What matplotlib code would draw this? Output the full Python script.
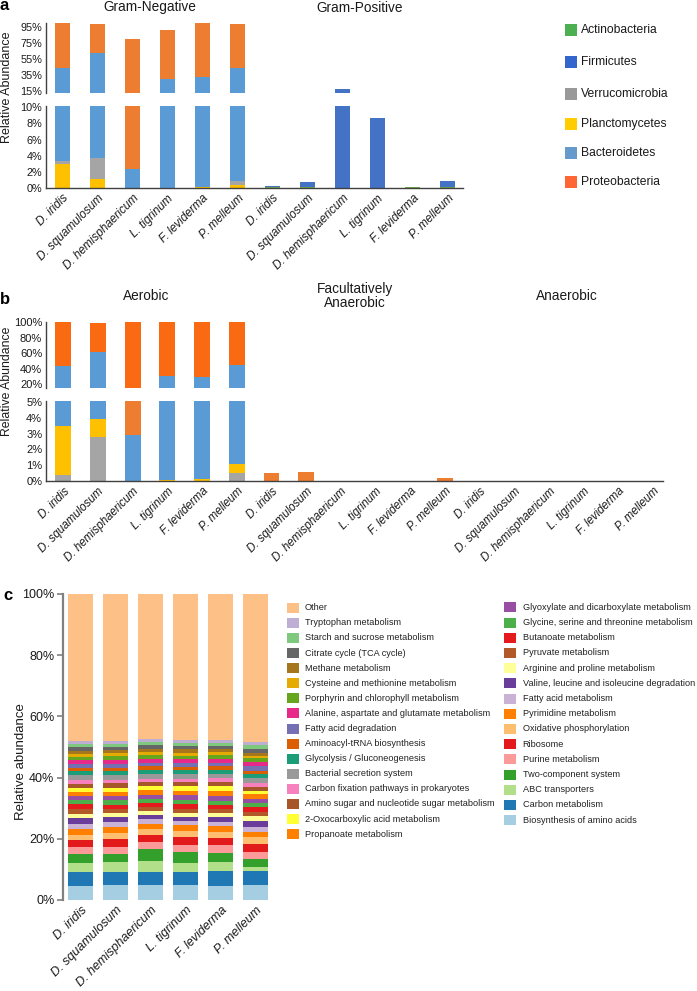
import matplotlib
matplotlib.use('Agg')
import matplotlib.pyplot as plt
from matplotlib.patches import Rectangle
from matplotlib.transforms import blended_transform_factory
import numpy as np

plt.rcParams['font.family'] = ['Liberation Sans', 'DejaVu Sans']

# ---------------- data ----------------
samples = ['D. iridis', 'D. squamulosum', 'D. hemisphaericum',
           'L. tigrinum', 'F. leviderma', 'P. melleum']

# panel a
gram_groups = ['Gram-Negative', 'Gram-Positive']
gneg_planctomycetes = [3.0, 1.1, 0.0, 0.05, 0.1, 0.45]
gneg_verrucomicrobia = [0.4, 2.7, 0.0, 0.0, 0.0, 0.5]
gneg_bacteroidetes = [40.6, 58.2, 2.35, 29.1, 31.6, 43.05]
gneg_proteobacteria = [56.0, 37.5, 78.25, 62.5, 68.3, 55.5]
gpos_actinobacteria = [0.1, 0.1, 0.0, 0.05, 0.1, 0.1]
gpos_firmicutes = [0.15, 0.65, 16.7, 8.65, 0.0, 0.8]

phyla = ['Actinobacteria', 'Firmicutes', 'Verrucomicrobia',
         'Planctomycetes', 'Bacteroidetes', 'Proteobacteria']

# panel b
oxy_groups = ['Aerobic', 'Facultatively\nAnaerobic', 'Anaerobic']
aer_verrucomicrobia = [0.4, 2.8, 0.0, 0.0, 0.0, 0.55]
aer_planctomycetes = [3.1, 1.1, 0.0, 0.1, 0.15, 0.55]
aer_bacteroidetes = [40.5, 58.1, 2.9, 30.6, 29.65, 43.4]
aer_proteobacteria = [56.0, 37.0, 97.1, 69.3, 70.2, 55.5]
fac_proteobacteria = [0.5, 0.6, 0.0, 0.05, 0.05, 0.23]
ana_proteobacteria = [0.0, 0.0, 0.0, 0.0, 0.0, 0.0]

# panel c (bottom -> top)
pathways = ['Biosynthesis of amino acids', 'Carbon metabolism', 'ABC transporters',
            'Two-component system', 'Purine metabolism', 'Ribosome',
            'Oxidative phosphorylation', 'Pyrimidine metabolism', 'Fatty acid metabolism',
            'Valine, leucine and isoleucine degradation', 'Arginine and proline metabolism',
            'Pyruvate metabolism', 'Butanoate metabolism',
            'Glycine, serine and threonine metabolism',
            'Glyoxylate and dicarboxylate metabolism', 'Propanoate metabolism',
            '2-Oxocarboxylic acid metabolism', 'Amino sugar and nucleotide sugar metabolism',
            'Carbon fixation pathways in prokaryotes', 'Bacterial secretion system',
            'Glycolysis / Gluconeogenesis', 'Aminoacyl-tRNA biosynthesis',
            'Fatty acid degradation', 'Alanine, aspartate and glutamate metabolism',
            'Porphyrin and chlorophyll metabolism', 'Cysteine and methionine metabolism',
            'Methane metabolism', 'Citrate cycle (TCA cycle)',
            'Starch and sucrose metabolism', 'Tryptophan metabolism', 'Other']
pathway_colors = ['#A6CEE3', '#1F78B4', '#B2DF8A', '#33A02C', '#FB9A99', '#E31A1C',
                  '#FDBF6F', '#FF7F00', '#CAB2D6', '#6A3D9A', '#FFFF99', '#B15928',
                  '#E41A1C', '#4DAF4A', '#984EA3', '#FF7F00', '#FFFF33', '#A65628',
                  '#F781BF', '#999999', '#1B9E77', '#D95F02', '#7570B3', '#E7298A',
                  '#66A61E', '#E6AB02', '#A6761D', '#666666', '#7FC97F', '#BEAED4',
                  '#FDC086']
c_d_iridis = [4.7, 4.35, 3.2, 2.7, 2.3, 2.2, 1.85, 1.85, 1.75, 1.85, 1.5, 1.5, 1.6, 1.3,
              1.4, 1.3, 1.4, 1.3, 1.3, 1.4, 1.3, 1.2, 1.2, 1.3, 1.1, 1.0, 1.0, 1.1, 1.0,
              1.0, 48.05]
c_d_squamulosum = [4.9, 4.35, 3.2, 2.6, 2.4, 2.5, 1.85, 2.2, 1.4, 1.6, 1.5, 1.3, 1.4, 1.4,
                   1.3, 1.3, 1.5, 1.4, 1.2, 1.4, 1.3, 1.2, 1.2, 1.4, 1.1, 1.0, 1.0, 1.1,
                   1.0, 1.0, 48.0]
c_d_hemisphaericum = [4.9, 4.35, 3.6, 3.7, 2.5, 2.2, 1.9, 1.85, 1.4, 1.3, 1.4, 1.3, 1.4,
                      1.2, 1.3, 1.5, 1.3, 1.3, 1.2, 1.5, 1.3, 1.4, 1.1, 1.3, 1.1, 1.1,
                      1.0, 1.1, 1.0, 1.0, 47.5]
c_l_tigrinum = [4.9, 4.35, 3.0, 3.3, 2.5, 2.6, 1.95, 1.85, 1.4, 1.4, 1.3, 1.3, 1.6, 1.3,
                1.45, 1.3, 1.6, 1.3, 1.2, 1.5, 1.3, 1.2, 1.2, 1.3, 1.1, 1.0, 1.0, 1.1,
                1.0, 1.0, 47.7]
c_f_leviderma = [4.7, 4.8, 3.0, 3.0, 2.5, 2.4, 1.85, 1.85, 1.4, 1.7, 1.2, 1.3, 1.4, 1.3,
                 1.7, 1.5, 1.6, 1.5, 1.2, 1.3, 1.3, 1.2, 1.2, 1.3, 1.1, 1.0, 1.0, 1.1,
                 1.0, 1.0, 47.6]
c_p_melleum = [4.9, 4.7, 1.3, 2.5, 2.4, 2.5, 2.2, 1.85, 1.6, 2.0, 1.5, 1.4, 1.5, 1.3,
               1.4, 1.5, 1.1, 1.4, 1.25, 1.5, 1.4, 1.1, 1.6, 1.1, 1.3, 0.9, 0.9, 1.3,
               1.1, 1.0, 48.5]

# ---------------- styling ----------------
W, H = 697, 991
fig = plt.figure(figsize=(W / 100, H / 100), dpi=100)

def fx(px):
    return px / W

def fy(py):
    return 1 - py / H

def add_ax(left, top, right, bottom):
    return fig.add_axes([fx(left), fy(bottom), fx(right) - fx(left), fy(top) - fy(bottom)])

C_ACT = '#70AD47'
C_FIR = '#4472C4'
C_VER = '#A5A5A5'
C_PLA = '#FFC000'
C_BAC = '#5B9BD5'
C_PRO = '#ED7D31'
C_PRO_B = '#FA6A12'
SPINE = '#404040'
TXT = '#1a1a1a'


def stack(ax, xs, layers, colors, width):
    bottom = np.zeros(len(xs))
    for vals, col in zip(layers, colors):
        v = np.asarray(vals, dtype=float)
        ax.bar(xs, v, width=width, bottom=bottom, color=col, edgecolor='none', linewidth=0)
        bottom += v


def style_broken(ax_top, ax_bot, yl_top, yl_bot, ticks_top, ticks_bot, xlim, fs):
    for ax in (ax_top, ax_bot):
        ax.set_xlim(*xlim)
        ax.spines['top'].set_visible(False)
        ax.spines['right'].set_visible(False)
        ax.spines['left'].set_color(SPINE)
        ax.spines['left'].set_linewidth(1.0)
        ax.tick_params(axis='y', length=0, pad=2.5, labelsize=fs, colors=TXT)
        ax.patch.set_alpha(0)
    ax_top.spines['bottom'].set_visible(False)
    ax_top.set_xticks([])
    ax_top.set_ylim(*yl_top)
    ax_top.set_yticks(ticks_top)
    ax_top.set_yticklabels([f'{t}%' for t in ticks_top])
    ax_bot.spines['bottom'].set_color(SPINE)
    ax_bot.spines['bottom'].set_linewidth(1.0)
    ax_bot.set_ylim(*yl_bot)
    ax_bot.set_yticks(ticks_bot)
    ax_bot.set_yticklabels([f'{t}%' for t in ticks_bot])


# ---------------- panel a ----------------
xa = np.arange(12)
a_top = add_ax(45.7, 22.7, 462.7, 93.3)
a_bot = add_ax(45.7, 106.0, 462.7, 188.3)
for ax in (a_top, a_bot):
    stack(ax, xa[:6], [gneg_planctomycetes, gneg_verrucomicrobia, gneg_bacteroidetes,
                       gneg_proteobacteria], [C_PLA, C_VER, C_BAC, C_PRO], 0.43)
    stack(ax, xa[6:], [gpos_actinobacteria, gpos_firmicutes], [C_ACT, C_FIR], 0.43)
style_broken(a_top, a_bot, (11.7, 100.6), (0, 10.16), [15, 35, 55, 75, 95],
             [0, 2, 4, 6, 8, 10], (-0.48, 11.43), 7.8)
a_bot.set_xticks(xa)
a_bot.set_xticklabels(samples * 2, rotation=45, ha='right', va='top',
                      rotation_mode='anchor', fontsize=8.5, style='italic', color=TXT)
a_bot.tick_params(axis='x', length=0, pad=3)

tr = blended_transform_factory(a_top.transData, fig.transFigure)
for gx, g in zip([2.5, 8.5], gram_groups):
    a_top.text(gx, fy(7.5), g, transform=tr, ha='center', va='center', fontsize=9.8,
               color=TXT)
fig.text(fx(0), fy(6), 'a', fontsize=12, fontweight='bold', ha='left', va='center')
fig.text(fx(7.5), fy(87), 'Relative Abundance', rotation=90, ha='center', va='center',
         fontsize=9, color=TXT)

leg_a_colors = ['#4CAF50', '#3366CC', '#999999', '#FFCC00', '#6699CC', '#FF6633']
leg_a_y = [30, 62.3, 93.7, 124, 152.7, 182]
for name, col, yy in zip(phyla, leg_a_colors, leg_a_y):
    fig.patches.append(Rectangle((fx(565), fy(yy + 6)), fx(12), 12 / H,
                                 transform=fig.transFigure, facecolor=col,
                                 edgecolor='none'))
    fig.text(fx(581), fy(yy), name, ha='left', va='center', fontsize=8.7, color=TXT)

# ---------------- panel b ----------------
xb = np.arange(18)
b_top = add_ax(45.7, 322.3, 663.3, 387.7)
b_bot = add_ax(45.7, 400.7, 663.3, 481.3)
for ax, pcol in ((b_top, C_PRO_B), (b_bot, C_PRO)):
    stack(ax, xb[:6], [aer_verrucomicrobia, aer_planctomycetes, aer_bacteroidetes,
                       aer_proteobacteria], [C_VER, C_PLA, C_BAC, pcol], 0.46)
    stack(ax, xb[6:12], [fac_proteobacteria], [C_PRO], 0.46)
    stack(ax, xb[12:], [ana_proteobacteria], [C_PRO], 0.46)
style_broken(b_top, b_bot, (15.6, 100), (0, 5.06), [20, 40, 60, 80, 100],
             [0, 1, 2, 3, 4, 5], (-0.507, 17.29), 8.0)
b_bot.set_xticks(xb)
b_bot.set_xticklabels(samples * 3, rotation=45, ha='right', va='top',
                      rotation_mode='anchor', fontsize=8.3, style='italic', color=TXT)
b_bot.tick_params(axis='x', length=0, pad=3)

trb = blended_transform_factory(b_top.transData, fig.transFigure)
for gx, g in zip([2.4, 8.4, 14.5], oxy_groups):
    b_top.text(gx, fy(296), g, transform=trb, ha='center', va='center', fontsize=9.8,
               color=TXT, linespacing=1.0)
fig.text(fx(0), fy(300), 'b', fontsize=12, fontweight='bold', ha='left', va='center')
fig.text(fx(7.5), fy(381), 'Relative Abundance', rotation=90, ha='center', va='center',
         fontsize=8.8, color=TXT)

# ---------------- panel c ----------------
xc = np.arange(6)
c_ax = add_ax(62.7, 594, 275, 900)
sample_arrays = [c_d_iridis, c_d_squamulosum, c_d_hemisphaericum,
                 c_l_tigrinum, c_f_leviderma, c_p_melleum]
mat = np.array(sample_arrays, dtype=float)  # samples x pathways
bottom = np.zeros(6)
for j, col in enumerate(pathway_colors):
    c_ax.bar(xc, mat[:, j], width=0.714, bottom=bottom, color=col, edgecolor='none')
    bottom += mat[:, j]
c_ax.set_xlim(-0.517, 5.55)
c_ax.set_ylim(0, 100)
for s in ('top', 'right', 'bottom'):
    c_ax.spines[s].set_visible(False)
c_ax.spines['left'].set_color('#808080')
c_ax.spines['left'].set_linewidth(1.6)
c_ax.set_yticks([0, 20, 40, 60, 80, 100])
c_ax.set_yticklabels(['0%', '20%', '40%', '60%', '80%', '100%'])
c_ax.tick_params(axis='y', length=4, width=1.2, color='#808080', pad=2, labelsize=9,
                 labelcolor=TXT)
c_ax.set_xticks(xc)
c_ax.set_xticklabels(samples, rotation=45, ha='right', va='top', rotation_mode='anchor',
                     fontsize=9.0, style='italic', color=TXT)
c_ax.tick_params(axis='x', length=0, pad=3)
fig.text(fx(3), fy(596), 'c', fontsize=12, fontweight='bold', ha='left', va='center')
fig.text(fx(21), fy(762), 'Relative abundance', rotation=90, ha='center', va='center',
         fontsize=9.5, color=TXT)

legend_order = list(range(len(pathways)))[::-1]
col1 = legend_order[:16]
col2 = legend_order[16:]
for k, idx in enumerate(col1):
    yy = 607.7 + 15.1 * k
    fig.patches.append(Rectangle((fx(287), fy(yy + 5)), fx(12), 10 / H,
                                 transform=fig.transFigure,
                                 facecolor=pathway_colors[idx], edgecolor='none'))
    fig.text(fx(305), fy(yy), pathways[idx], ha='left', va='center', fontsize=6.6,
             color='#222222')
for k, idx in enumerate(col2):
    yy = 607.3 + 15.2 * k
    fig.patches.append(Rectangle((fx(504), fy(yy + 5)), fx(12), 10 / H,
                                 transform=fig.transFigure,
                                 facecolor=pathway_colors[idx], edgecolor='none'))
    fig.text(fx(522.7), fy(yy), pathways[idx], ha='left', va='center', fontsize=6.6,
             color='#222222')

fig.savefig('out.png', dpi=100)
